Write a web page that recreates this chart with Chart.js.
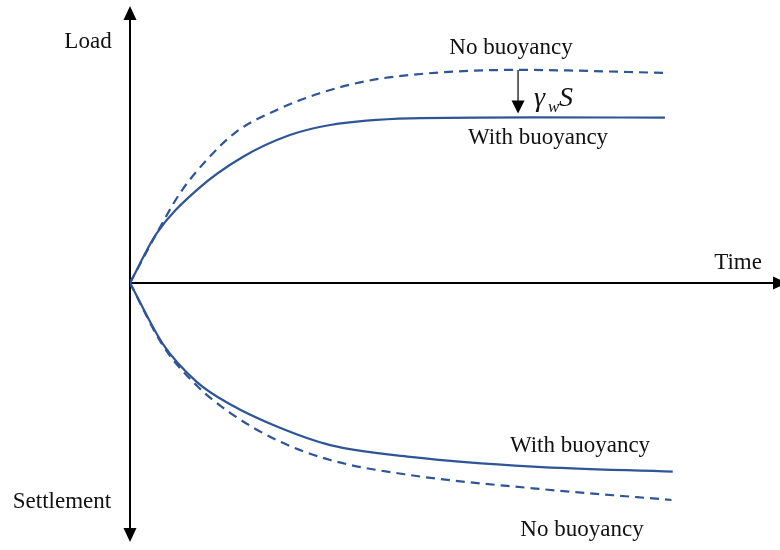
<!DOCTYPE html>
<html>
<head>
<meta charset="utf-8">
<script src="https://cdn.jsdelivr.net/npm/chart.js@4"></script>
<style>
  html, body { margin: 0; padding: 0; background: #fff; }
  #wrap { width: 780px; height: 550px; }
</style>
</head>
<body>
<div id="wrap"><canvas id="myChart" width="780" height="550"></canvas></div>
<script>
// curves: time on x, load (+) / settlement (-) on y
const loadTime      = [0, 4.1, 10.3, 17.4, 24.6, 30.8, 43.1, 62.0, 82.3];
const loadWith      = [0, 18.7, 35.1, 47.6, 55.8, 59.6, 62.1, 62.5, 62.4];
const loadNoTime    = [0, 4.1, 7.7, 11.8, 16.4, 22.6, 29.2, 35.8, 43.1, 59.5, 82.0];
const loadNo        = [0, 18.7, 33.9, 46.4, 57.1, 65.3, 71.6, 75.9, 78.5, 80.4, 79.3];
const settleTime    = [0, 5.1, 10.3, 15.4, 22.6, 30.8, 43.1, 62.0, 83.5];
const settleWith    = [0, -23.2, -37.4, -45.8, -54.2, -61.2, -65.6, -69.3, -71.2];
const settleNoTime  = [0, 5.1, 10.3, 15.4, 22.6, 30.8, 43.1, 62.0, 83.3];
const settleNo      = [0, -23.8, -38.8, -49.0, -59.3, -66.8, -72.5, -77.5, -81.9];

const axisNames = ["Load", "Time", "Settlement"];
const curveNames = ["No buoyancy", "With buoyancy"];
const arrowAt = 59.7; // time where the buoyancy arrow sits

const blue = '#2f5597';
const serif = '"Liberation Serif", "Times New Roman", serif';

function pts(xs, ys) {
    return xs.map((x, i) => ({ x: x, y: ys[i] }));
}

function interp(xs, ys, x) {
    for (let i = 1; i < xs.length; i++) {
        if (x <= xs[i]) {
            let t = (x - xs[i - 1]) / (xs[i] - xs[i - 1]);
            return ys[i - 1] + t * (ys[i] - ys[i - 1]);
        }
    }
    return ys[ys.length - 1];
}

function arrowHead(ctx, x, y, dir, len, half) {
    // dir: 'up', 'down', 'right'
    ctx.beginPath();
    if (dir == 'up') {
        ctx.moveTo(x, y); ctx.lineTo(x - half, y + len); ctx.lineTo(x + half, y + len);
    } else if (dir == 'down') {
        ctx.moveTo(x, y); ctx.lineTo(x - half, y - len); ctx.lineTo(x + half, y - len);
    } else {
        ctx.moveTo(x, y); ctx.lineTo(x - len, y - half); ctx.lineTo(x - len, y + half);
    }
    ctx.closePath();
    ctx.fill();
}

const axesPlugin = {
    id: 'axesArrows',
    beforeDatasetsDraw(chart) {
        const ctx = chart.ctx;
        const xs = chart.scales.x, ys = chart.scales.y;
        const ox = xs.getPixelForValue(0), oy = ys.getPixelForValue(0);
        ctx.save();
        ctx.strokeStyle = '#000';
        ctx.fillStyle = '#000';
        ctx.lineWidth = 2;
        ctx.beginPath();
        ctx.moveTo(ox, 16); ctx.lineTo(ox, 532);
        ctx.moveTo(ox, oy); ctx.lineTo(776, oy);
        ctx.stroke();
        arrowHead(ctx, ox, 6, 'up', 14, 6.5);
        arrowHead(ctx, ox, 542, 'down', 14, 6.5);
        arrowHead(ctx, 787, oy, 'right', 14, 6.5);
        ctx.restore();
    },
    afterDatasetsDraw(chart) {
        const ctx = chart.ctx;
        const xs = chart.scales.x, ys = chart.scales.y;
        ctx.save();
        ctx.fillStyle = '#111';
        ctx.font = '23px ' + serif;
        ctx.textBaseline = 'middle';
        ctx.textAlign = 'center';
        ctx.fillText(axisNames[0], 88, 42);
        ctx.fillText(axisNames[1], 738, 263);
        ctx.fillText(axisNames[2], 62, 502);

        ctx.fillText(curveNames[0], 511, 48);
        ctx.fillText(curveNames[1], 538, 138);
        ctx.fillText(curveNames[1], 580, 446);
        ctx.fillText(curveNames[0], 582, 530);

        // buoyancy offset arrow between the two load curves
        const ax = xs.getPixelForValue(arrowAt);
        const yTop = ys.getPixelForValue(interp(loadNoTime, loadNo, arrowAt));
        const yBot = ys.getPixelForValue(interp(loadTime, loadWith, arrowAt));
        ctx.strokeStyle = '#000';
        ctx.fillStyle = '#000';
        ctx.lineWidth = 1.2;
        ctx.beginPath();
        ctx.moveTo(ax, yTop); ctx.lineTo(ax, yBot - 14);
        ctx.stroke();
        arrowHead(ctx, ax, yBot - 4, 'down', 13, 6.5);

        ctx.fillStyle = '#111';
        ctx.textAlign = 'left';
        ctx.textBaseline = 'alphabetic';
        ctx.font = 'italic 28px ' + serif;
        ctx.fillText('\u03b3', 534, 106);
        ctx.font = 'italic 17px ' + serif;
        ctx.fillText('w', 548, 112);
        ctx.font = 'italic 28px ' + serif;
        ctx.fillText('S', 559, 106);
        ctx.restore();
    }
};

const lineStyle = {
    borderColor: blue,
    borderWidth: 2.2,
    pointRadius: 0,
    fill: false,
    cubicInterpolationMode: 'monotone'
};

myChart = new Chart(document.getElementById('myChart').getContext('2d'), {
    type: 'line',
    data: {
        datasets: [
            Object.assign({ label: 'load with', data: pts(loadTime, loadWith) }, lineStyle),
            Object.assign({ label: 'load no', data: pts(loadNoTime, loadNo), borderDash: [9, 6] }, lineStyle),
            Object.assign({ label: 'settle with', data: pts(settleTime, settleWith) }, lineStyle),
            Object.assign({ label: 'settle no', data: pts(settleNoTime, settleNo), borderDash: [9, 6] }, lineStyle)
        ]
    },
    options: {
        responsive: false,
        animation: false,
        layout: { padding: { left: 130, right: 0, top: 10, bottom: 10 } },
        plugins: { legend: { display: false }, tooltip: { enabled: false } },
        scales: {
            x: { type: 'linear', min: 0, max: 100, display: false },
            y: { type: 'linear', min: -97, max: 103, display: false }
        }
    },
    plugins: [axesPlugin]
});
</script>
</body>
</html>
